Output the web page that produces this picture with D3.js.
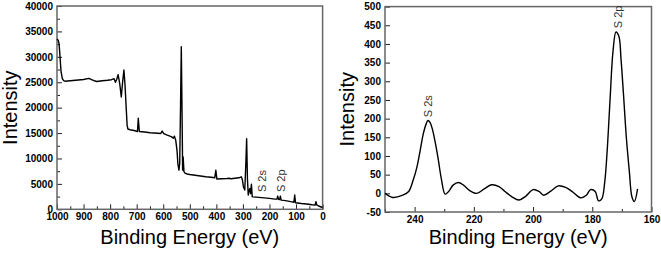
<!DOCTYPE html>
<html>
<head>
<meta charset="utf-8">
<style>
body { margin: 0; background: #fff; }
svg { font-family: "Liberation Sans", Arial, sans-serif; }
</style>
<script src="https://d3js.org/d3.v7.min.js"></script>
</head>
<body>
<svg id="xps" width="661" height="253"></svg>
<script>

// survey spectrum, binding energy (eV) vs intensity
var surveyEv = [1000, 995, 992, 988, 985, 980, 975, 970, 950, 920, 900, 880, 870, 860, 850, 830, 810, 795, 785, 780, 775, 770, 764, 758, 753, 748, 744, 740, 736, 733, 725, 710, 697, 694, 690, 670, 650, 620, 610, 604, 598, 585, 570, 562, 558, 553, 548, 545, 541, 538, 535, 532, 529, 527, 525, 522, 518, 510, 500, 480, 460, 440, 420, 406, 402, 398, 380, 360, 350, 345, 330, 315, 306, 302, 298, 293, 289, 286, 283, 280, 277, 274, 271, 268, 265, 262, 250, 230, 200, 180, 172, 169, 166, 162, 159, 156, 140, 120, 108, 105, 102, 80, 60, 40, 28, 25, 22, 15, 5, 0];
var surveyI = [33500, 33200, 32500, 29500, 27200, 25700, 25300, 25200, 25300, 25450, 25550, 25750, 25500, 25300, 25150, 25300, 25400, 25500, 25700, 25000, 25600, 26500, 24800, 22100, 25000, 27400, 24500, 20500, 16500, 15800, 15650, 15500, 15300, 17900, 15300, 15200, 15050, 14950, 14900, 15400, 14900, 14600, 14300, 14000, 14400, 13600, 11500, 9000, 7700, 9000, 20000, 32000, 18000, 7700, 10300, 7400, 7100, 6950, 6850, 6700, 6550, 6400, 6300, 6200, 7700, 5950, 6000, 6050, 6100, 6000, 6100, 6200, 6400, 5800, 4400, 3800, 9000, 13900, 6000, 2800, 3600, 4100, 3100, 4950, 2500, 2450, 2400, 2300, 2150, 2000, 2000, 2600, 1950, 1900, 2600, 1800, 1700, 1500, 1400, 2800, 1300, 1150, 1050, 900, 850, 1500, 850, 650, 450, 350];
var surveyXTicks = [1000, 900, 800, 700, 600, 500, 400, 300, 200, 100, 0];
var surveyYTicks = [0, 5000, 10000, 15000, 20000, 25000, 30000, 35000, 40000];

// S region (narrow scan)
var sEv = [250, 247.5, 244, 242, 240.5, 239.2, 238, 237, 236, 235.5, 234.8, 234, 233, 232, 231, 229.7, 228.5, 227, 225.2, 223.5, 221.5, 219, 216.5, 214, 211.5, 209.5, 207, 204.8, 202.5, 200, 198, 196.4, 194, 191.5, 189, 186.5, 184, 182, 180.6, 179, 177.9, 176.8, 175.8, 175, 174, 173, 172, 171, 170.3, 169.5, 168.5, 167.5, 166.6, 165.8, 164.7];
var sI = [0, -11, -5, 5, 35, 71, 120, 162, 188, 195, 190, 172, 135, 90, 40, -2, 5, 22, 29, 22, 8, 0, 12, 23, 18, 5, -10, -18, -8, 10, 5, -5, 6, 20, 16, 3, -12, -5, 10, 5, -20, -15, 30, 110, 250, 380, 432, 420, 360, 270, 150, 60, -10, -22, 12];
var sXTicks = [240, 220, 200, 180, 160];
var sYTicks = [-50, 0, 50, 100, 150, 200, 250, 300, 350, 400, 450, 500];

var svg = d3.select("#xps");

function drawPanel(opts) {
    var x = d3.scaleLinear().domain(opts.xDomain).range([opts.left, opts.right]);
    var y = d3.scaleLinear().domain(opts.yDomain).range([opts.bottom, opts.top]);
    var g = svg.append("g");

    // minor ticks, inward
    var xMinor = d3.axisBottom(x).tickValues(opts.xMinor).tickSize(-3).tickFormat("");
    var yMinor = d3.axisLeft(y).tickValues(opts.yMinor).tickSize(-3).tickFormat("");
    g.append("g").attr("transform", "translate(0," + opts.bottom + ")").call(xMinor);
    g.append("g").attr("transform", "translate(" + opts.left + ",0)").call(yMinor);

    var fmt = function(d) { return d < 0 ? "-" + Math.abs(d) : String(d); };
    var xAxis = d3.axisBottom(x).tickValues(opts.xTicks).tickSizeInner(-5).tickSizeOuter(0).tickPadding(4).tickFormat(fmt);
    var yAxis = d3.axisLeft(y).tickValues(opts.yTicks).tickSizeInner(-5).tickSizeOuter(0).tickPadding(4).tickFormat(fmt);
    g.append("g").attr("transform", "translate(0," + opts.bottom + ")").call(xAxis);
    g.append("g").attr("transform", "translate(" + opts.left + ",0)").call(yAxis);
    g.selectAll(".domain").remove();
    g.selectAll(".tick line").attr("stroke", "#222");
    g.selectAll(".tick text")
        .style("font-family", "'Liberation Sans', Arial, sans-serif")
        .style("font-size", "10px")
        .style("font-weight", "700")
        .style("fill", "#000");

    // frame
    g.append("rect")
        .attr("x", opts.left).attr("y", opts.top)
        .attr("width", opts.right - opts.left).attr("height", opts.bottom - opts.top)
        .attr("fill", "none").attr("stroke", "#666").attr("stroke-width", 1.5);

    var line = d3.line()
        .x(function(d) { return x(d[0]); })
        .y(function(d) { return y(d[1]); })
        .curve(opts.curve);
    g.append("path")
        .datum(d3.zip(opts.ev, opts.val))
        .attr("d", line)
        .attr("fill", "none")
        .attr("stroke", "#000")
        .attr("stroke-width", 1.4)
        .attr("stroke-linejoin", "round");

    // peak labels, rotated; baseline sits right of the label centre
    opts.labels.forEach(function(l) {
        g.append("text")
            .attr("transform", "translate(" + (x(l.ev) + 4) + "," + y(l.val) + ") rotate(-90)")
            .attr("font-size", 11)
            .attr("fill", "#333")
            .text(l.text);
    });

    g.append("text")
        .attr("x", (opts.left + opts.right) / 2)
        .attr("y", 244)
        .attr("text-anchor", "middle")
        .attr("font-size", 20)
        .text("Binding Energy (eV)");
    g.append("text")
        .attr("transform", "translate(" + opts.yTitleX + "," + ((opts.top + opts.bottom) / 2) + ") rotate(-90)")
        .attr("text-anchor", "middle")
        .attr("font-size", 20)
        .text("Intensity");
}

drawPanel({
    left: 57, right: 322.6, top: 6, bottom: 209.3,
    xDomain: [1000, 0], yDomain: [0, 40000],
    xTicks: surveyXTicks, yTicks: surveyYTicks,
    xMinor: d3.range(50, 1000, 100), yMinor: d3.range(2500, 40000, 5000),
    ev: surveyEv, val: surveyI, curve: d3.curveLinear,
    labels: [{ ev: 228, val: 3400, text: "S 2s" }, { ev: 157, val: 3400, text: "S 2p" }],
    yTitleX: 17
});

drawPanel({
    left: 385, right: 651.5, top: 6.6, bottom: 212,
    xDomain: [250, 160], yDomain: [-50, 500],
    xTicks: sXTicks, yTicks: sYTicks,
    xMinor: [250, 230, 210, 190, 170], yMinor: [],
    ev: sEv, val: sI, curve: d3.curveCatmullRom,
    labels: [{ ev: 235.6, val: 204, text: "S 2s" }, { ev: 171.3, val: 442, text: "S 2p" }],
    yTitleX: 354
});

</script>
</body>
</html>
